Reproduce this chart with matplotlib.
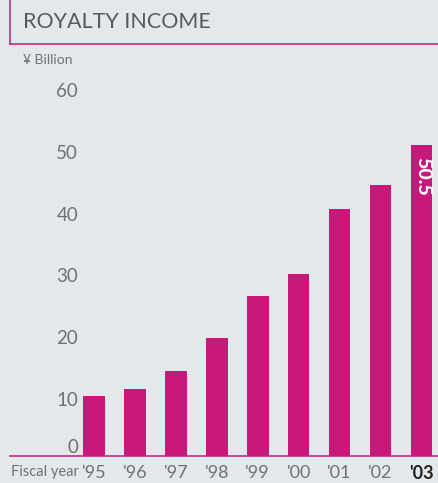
import matplotlib.pyplot as plt
from matplotlib.lines import Line2D
from matplotlib.transforms import ScaledTranslation

years = ["'95", "'96", "'97", "'98", "'99", "'00", "'01", "'02", "'03"]
income = [9.8, 10.9, 13.9, 19.2, 26.0, 29.6, 40.1, 44.0, 50.5]
yticks = [0, 10, 20, 30, 40, 50, 60]

MAGENTA = "#c8187a"
BG = "#e3e8ea"
GREY = "#707173"
DARK = "#58595b"

plt.rcParams["font.family"] = ["Lato", "DejaVu Sans"]

fig = plt.figure(figsize=(4.39, 4.83), dpi=100, facecolor=BG)
ax = fig.add_axes([10 / 439, 0.0549, 429 / 439, 0.7728], facecolor=BG)

x = list(range(len(years)))
ax.bar(x, income, width=0.53, color=MAGENTA, zorder=3)

ax.set_xlim(-2.05, 8.43)
ax.set_ylim(0, 60.5)

for s in ["top", "right", "left"]:
    ax.spines[s].set_visible(False)
ax.spines["bottom"].set_color(MAGENTA)
ax.spines["bottom"].set_linewidth(1.1)

ax.set_yticks(yticks)
ax.set_yticklabels([str(v) for v in yticks], fontsize=13.5, color=GREY)
ax.tick_params(axis="y", length=0, pad=-49)
for lab, v in zip(ax.get_yticklabels(), yticks):
    dy = 10 if v == 0 else -4
    lab.set_transform(lab.get_transform() + ScaledTranslation(0, dy / 100, fig.dpi_scale_trans))

ax.set_xticks(x)
ax.set_xticklabels(years, fontsize=13, color=GREY)
ax.tick_params(axis="x", length=0, pad=6)
last = ax.get_xticklabels()[-1]
last.set_fontweight("bold")
last.set_color("#231f20")

# value label on the last bar
ax.text(x[-1] + 0.03, income[-1] - 1.9, f"{income[-1]:.1f}", rotation=-90,
        ha="center", va="top", color="white", fontsize=14, fontweight="black", zorder=4)

# title box
fig.add_artist(Line2D([10.5 / 439, 10.5 / 439], [1, 1 - 44 / 483], color=MAGENTA, lw=1.1,
                      transform=fig.transFigure))
fig.add_artist(Line2D([10 / 439, 1], [1 - 44 / 483, 1 - 44 / 483], color=MAGENTA, lw=1.1,
                      transform=fig.transFigure))
fig.text(23 / 439, 1 - 22 / 483, "ROYALTY INCOME", fontsize=15.5, color=DARK, va="center", ha="left")
fig.text(23 / 439, 1 - 60 / 483, "¥ Billion", fontsize=10, color=GREY, va="center", ha="left")
fig.text(11 / 439, 1 - 472 / 483, "Fiscal year", fontsize=10.5, color=GREY, va="center", ha="left")

fig.savefig("out.png", dpi=100, facecolor=BG)
